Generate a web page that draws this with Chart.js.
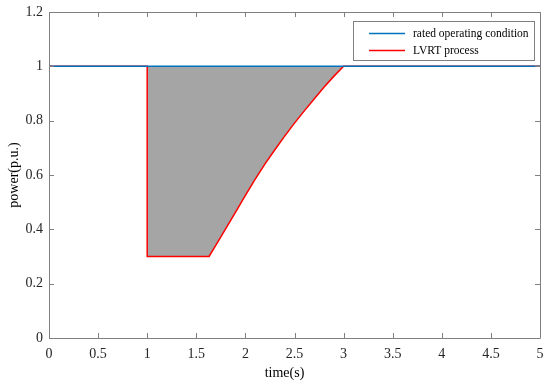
<!DOCTYPE html>
<html>
<head>
<meta charset="utf-8">
<script src="https://cdn.jsdelivr.net/npm/chart.js@4/dist/chart.umd.min.js"></script>
<style>
html,body{margin:0;padding:0;background:#fff;}
#wrap{width:550px;height:386px;}
</style>
</head>
<body>
<div id="wrap"><canvas id="c" width="550" height="386"></canvas></div>
<script>
// Data
const seriesNames = ['rated operating condition', 'LVRT process'];
const ratedX = [0, 5];
const ratedY = [1, 1];
const lvrtX = [0, 1, 1, 1.63, 1.75, 1.9, 2.0, 2.1, 2.2, 2.3, 2.4, 2.5, 2.6, 2.7, 2.8, 2.9, 3.0, 5];
const lvrtY = [1, 1, 0.3, 0.3, 0.372, 0.463, 0.525, 0.585, 0.641, 0.693, 0.743, 0.791, 0.836, 0.88, 0.923, 0.963, 1.0, 1];
const xTicks = [0, 0.5, 1, 1.5, 2, 2.5, 3, 3.5, 4, 4.5, 5];
const yTicks = [0, 0.2, 0.4, 0.6, 0.8, 1, 1.2];
const xTitle = 'time(s)';
const yTitle = 'power(p.u.)';

const FONT = '"Liberation Serif", "Times New Roman", serif';
const AXIS = '#808080';

const toPts = (xs, ys) => xs.map((x, i) => ({x: x, y: ys[i]}));

const frame = {
  id: 'frame',
  afterDatasetsDraw(chart) {
    const {ctx, chartArea: a, scales} = chart;
    ctx.save();
    ctx.strokeStyle = AXIS;
    ctx.lineWidth = 1;
    ctx.beginPath();
    ctx.rect(Math.round(a.left) + 0.5, Math.round(a.top) + 0.5, Math.round(a.right - a.left), Math.round(a.bottom - a.top));
    ctx.stroke();
    const L = 5;
    ctx.beginPath();
    xTicks.forEach(v => {
      const px = Math.round(scales.x.getPixelForValue(v)) + 0.5;
      ctx.moveTo(px, a.bottom); ctx.lineTo(px, a.bottom - L);
      ctx.moveTo(px, a.top); ctx.lineTo(px, a.top + L);
    });
    yTicks.forEach(v => {
      const py = Math.round(scales.y.getPixelForValue(v)) + 0.5;
      ctx.moveTo(a.left, py); ctx.lineTo(a.left + L, py);
      ctx.moveTo(a.right, py); ctx.lineTo(a.right - L, py);
    });
    ctx.stroke();
    // x title
    ctx.fillStyle = '#000';
    ctx.font = '14px ' + FONT;
    ctx.textAlign = 'center';
    ctx.textBaseline = 'middle';
    ctx.fillText(xTitle, (a.left + a.right) / 2 - 10, 373);
    // legend
    const bx = 353.5, by = 21.5, bw = 181, bh = 39;
    ctx.fillStyle = '#fff';
    ctx.fillRect(bx, by, bw, bh);
    ctx.strokeStyle = '#808080';
    ctx.strokeRect(bx, by, bw, bh);
    chart.data.datasets.forEach((ds, i) => {
      const yy = 33.5 + i * 17;
      ctx.strokeStyle = ds.borderColor;
      ctx.lineWidth = 1.5;
      ctx.beginPath(); ctx.moveTo(369, yy); ctx.lineTo(405, yy); ctx.stroke();
      ctx.fillStyle = '#000';
      ctx.font = '11.5px ' + FONT;
      ctx.textBaseline = 'middle';
      ctx.textAlign = 'left';
      ctx.fillText(ds.label, 413, yy);
    });
    ctx.restore();
  }
};

new Chart(document.getElementById('c'), {
  type: 'line',
  data: {
    datasets: [
      {label: seriesNames[0], data: toPts(ratedX, ratedY), borderColor: '#0072BD', borderWidth: 1.5, pointRadius: 0, fill: false, order: 0},
      {label: seriesNames[1], data: toPts(lvrtX, lvrtY), borderColor: '#FF0000', borderWidth: 1.5, pointRadius: 0, tension: 0,
       fill: {target: {value: 1}}, backgroundColor: '#A5A5A5', order: 1}
    ]
  },
  options: {
    responsive: false,
    animation: false,
    layout: {padding: {top: 12, right: 10, left: 6, bottom: 0}},
    plugins: {legend: {display: false}, tooltip: {enabled: false}},
    scales: {
      x: {
        type: 'linear', min: 0, max: 5,
        afterBuildTicks: s => { s.ticks = xTicks.map(v => ({value: v})); },
        afterFit: s => { s.height = 48; s.paddingLeft = 0; s.paddingRight = 0; },
        grid: {display: false, drawTicks: false},
        border: {display: false},
        ticks: {font: {family: FONT, size: 14}, color: '#262626', padding: 8, maxRotation: 0, callback: v => String(v)},
        title: {display: false}
      },
      y: {
        type: 'linear', min: 0, max: 1.2,
        afterBuildTicks: s => { s.ticks = yTicks.map(v => ({value: v})); },
        afterFit: s => { s.width = 43; s.paddingTop = 0; s.paddingBottom = 0; },
        grid: {display: false, drawTicks: false},
        border: {display: false},
        ticks: {font: {family: FONT, size: 14}, color: '#262626', padding: 6, callback: v => String(v)},
        title: {display: true, text: yTitle, font: {family: FONT, size: 14}, color: '#000', padding: {top: 0, bottom: 2}}
      }
    }
  },
  plugins: [frame]
});
</script>
</body>
</html>
